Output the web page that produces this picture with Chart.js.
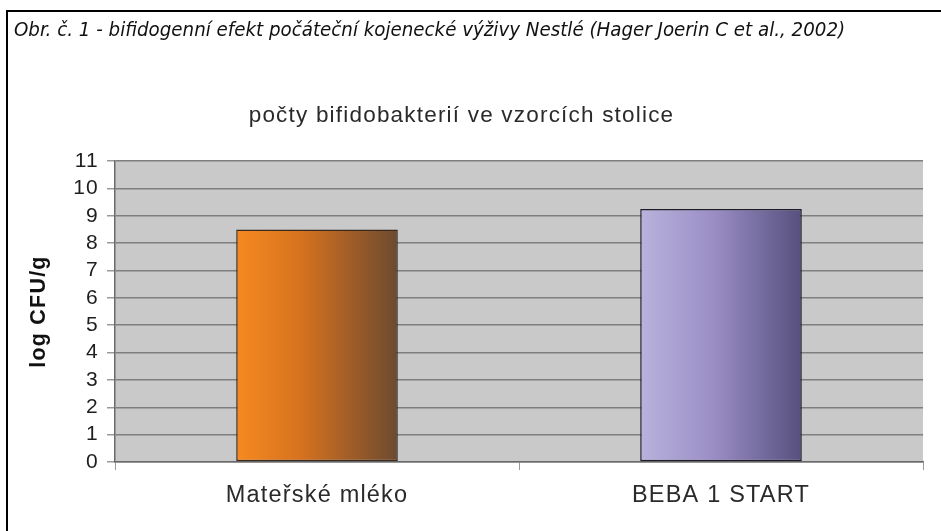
<!DOCTYPE html>
<html>
<head>
<meta charset="utf-8">
<script src="https://cdn.jsdelivr.net/npm/chart.js@4.4.1/dist/chart.umd.min.js"></script>
<style>
html,body{margin:0;padding:0;background:#fff;}
#wrap{position:relative;width:941px;height:531px;}
</style>
</head>
<body>
<div id="wrap"><canvas id="c" width="941" height="531"></canvas></div>
<script>
const categories = ["Mateřské mléko", "BEBA 1 START"];
const values = [8.5, 9.25];
const headerText = "Obr. č. 1 - bifidogenní efekt počáteční kojenecké výživy Nestlé (Hager Joerin C et al., 2002)";
const chartTitle = "počty bifidobakterií ve vzorcích stolice";
const yAxisTitle = "log CFU/g";
const yMin = 0, yMax = 11, yStep = 1;

const CAT_PCT = 0.5, BAR_PCT = 0.8;
const gradStops = [
  [[0, "#f7891f"], [0.4, "#d6721f"], [1, "#6c4a30"]],
  [[0, "#b8b3dc"], [0.45, "#9b8ec6"], [1, "#56507e"]]
];
const borderCols = ["#3a2a1e", "#1e1c2c"];

function barFill(ctx) {
  const chart = ctx.chart;
  const stops = gradStops[ctx.dataIndex % gradStops.length];
  const xs = chart.scales.x;
  if (!xs || isNaN(xs.left)) return stops[1][1];
  const cx = xs.getPixelForValue(ctx.dataIndex);
  const w = (xs.right - xs.left) / categories.length * CAT_PCT * BAR_PCT;
  const g = chart.ctx.createLinearGradient(cx - w / 2, 0, cx + w / 2, 0);
  stops.forEach(s => g.addColorStop(s[0], s[1]));
  return g;
}

const framePlugin = {
  id: "frame",
  beforeDraw(chart) {
    const c = chart.ctx;
    const a = chart.chartArea;
    c.save();
    c.letterSpacing = "0px";
    c.fillStyle = "#fff";
    c.fillRect(0, 0, chart.width, chart.height);
    c.strokeStyle = "#000";
    c.lineWidth = 2;
    c.beginPath();
    c.moveTo(7, chart.height + 2);
    c.lineTo(7, 11);
    c.lineTo(chart.width + 2, 11);
    c.stroke();
    c.fillStyle = "#111";
    c.font = "italic 20.3px 'DejaVu Sans Condensed', 'Liberation Sans Narrow', sans-serif";
    c.textBaseline = "middle";
    c.textAlign = "left";
    c.fillText(headerText, 14, 31);
    c.fillStyle = "#c9c9c9";
    c.fillRect(a.left, a.top, a.right - a.left, a.bottom - a.top);
    c.restore();
    c.letterSpacing = "1.2px";
  }
};

new Chart(document.getElementById("c"), {
  type: "bar",
  data: {
    labels: categories,
    datasets: [{
      data: values,
      backgroundColor: barFill,
      borderColor: borderCols,
      borderWidth: 1.5,
      borderSkipped: false,
      barPercentage: BAR_PCT,
      categoryPercentage: CAT_PCT
    }]
  },
  options: {
    responsive: false,
    animation: false,
    layout: { padding: { left: 0, right: 18, top: 0, bottom: 0 } },
    plugins: {
      legend: { display: false },
      tooltip: { enabled: false },
      title: {
        display: true,
        text: chartTitle,
        color: "#2a2a2a",
        font: { family: "'Liberation Sans', Arial, sans-serif", size: 22.5, weight: "normal" },
        padding: { top: 102.5, bottom: 31.5 }
      }
    },
    scales: {
      x: {
        offset: true,
        afterFit(s) { s.height = 69; },
        grid: { display: true, drawOnChartArea: false, offset: true, color: "#9a9a9a", tickLength: 8 },
        border: { display: true, color: "#6a6a6a", width: 1.5 },
        ticks: {
          color: "#2a2a2a",
          padding: 11,
          font: { family: "'Liberation Sans', Arial, sans-serif", size: 23.5 }
        }
      },
      y: {
        min: yMin, max: yMax,
        afterFit(s) { s.width = 115; },
        grid: { color: "#7e7e7e", lineWidth: 1.5, tickLength: 8, tickColor: "#9a9a9a" },
        border: { display: true, color: "#6a6a6a", width: 1.5 },
        ticks: {
          stepSize: yStep,
          autoSkip: false,
          color: "#1e1e1e",
          padding: 8,
          font: { family: "'Liberation Sans', Arial, sans-serif", size: 21 }
        },
        title: {
          display: true,
          text: yAxisTitle,
          color: "#111",
          font: { family: "'Liberation Sans', Arial, sans-serif", size: 21.5, weight: "bold" },
          padding: { top: 26, bottom: 0 }
        }
      }
    }
  },
  plugins: [framePlugin]
});
</script>
</body>
</html>
